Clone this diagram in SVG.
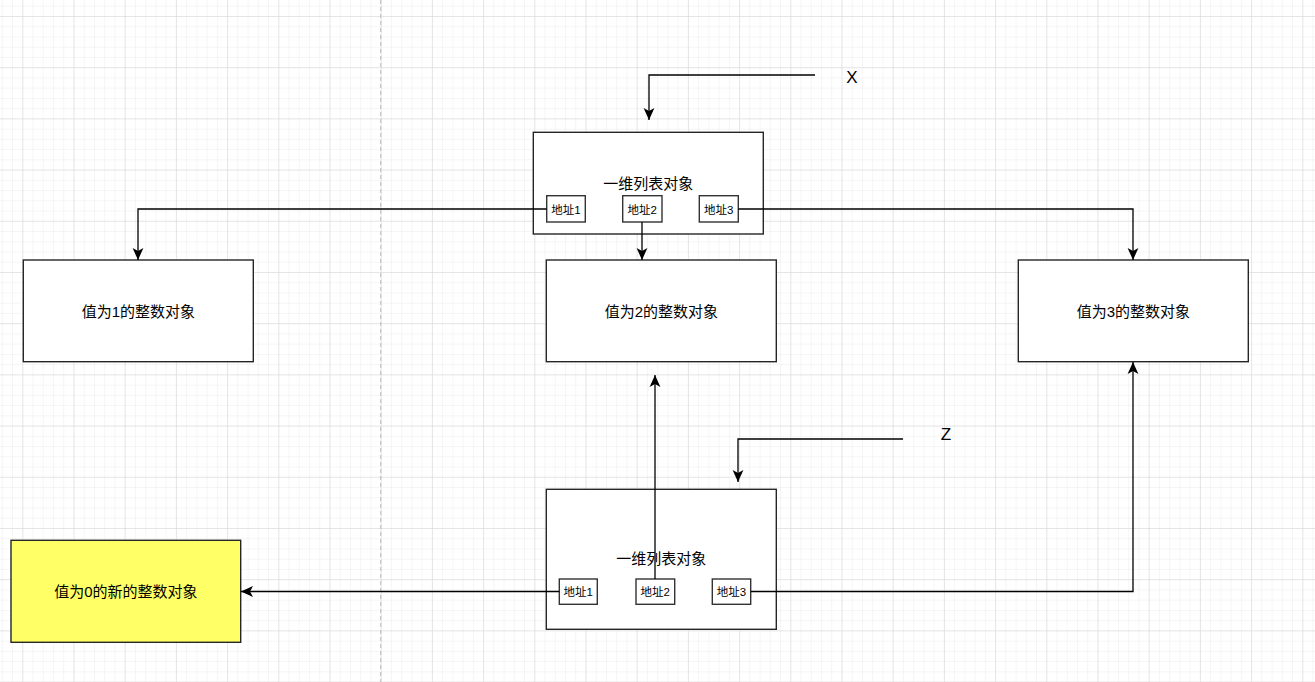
<svg xmlns="http://www.w3.org/2000/svg" width="1315" height="682" viewBox="0 0 1315 682">
<style>
.box{fill:#fff;stroke:#262626;stroke-width:1.4}
.yel{fill:#ffff66;stroke:#262626;stroke-width:1.4}
.sm{fill:#fff;stroke:#333;stroke-width:1.4}
.t{font-family:"Liberation Sans","Noto Sans CJK SC",sans-serif;font-size:15px;fill:#000;text-anchor:middle;dominant-baseline:central}
.ts{font-family:"Liberation Sans","Noto Sans CJK SC",sans-serif;font-size:11.5px;fill:#000;text-anchor:middle;dominant-baseline:central}
.tl{font-family:"Liberation Sans","Noto Sans",sans-serif;font-size:17px;fill:#000;text-anchor:middle;dominant-baseline:central}
.c{fill:none;stroke:#000;stroke-width:1.3}
</style>
<defs>
<pattern id="minor" patternUnits="userSpaceOnUse" x="1.82" y="5.76" width="10.24" height="10.24">
<path d="M0 0H10.24M0 0V10.24" fill="none" stroke="#ececec" stroke-width="1"/>
</pattern>
<pattern id="major" patternUnits="userSpaceOnUse" x="22.3" y="16" width="51.2" height="51.2">
<path d="M0 0H51.2M0 0V51.2" fill="none" stroke="#d6d6d6" stroke-width="1"/>
</pattern>
<marker id="ah" markerUnits="userSpaceOnUse" markerWidth="12" markerHeight="12" viewBox="0 0 10 9" refX="10" refY="4.5" orient="auto">
<path d="M0 0L10 4.5L0 9L2.5 4.5Z" fill="#000"/>
</marker>
</defs>
<rect width="1315" height="682" fill="#fff"/>
<rect width="1315" height="682" fill="url(#minor)"/>
<rect width="1315" height="682" fill="url(#major)"/>
<line x1="380.7" y1="0" x2="380.7" y2="682" stroke="#c4c4c4" stroke-width="1.2" stroke-dasharray="4 3"/>

<g id="labelX"><text class="tl" x="852" y="77">X</text></g>
<g id="labelZ"><text class="tl" x="946" y="434">Z</text></g>

<g id="list1">
<rect class="box" x="533.3" y="132.3" width="230" height="101.7"/>
<text class="t" x="648.3" y="183.5">一维列表对象</text>
</g>
<g id="list1_addr1"><rect class="sm" x="546.7" y="195.7" width="38.6" height="26.3"/><text class="ts" x="566" y="209.5">地址1</text></g>
<g id="list1_addr2"><rect class="sm" x="622.7" y="195.7" width="39.3" height="26.3"/><text class="ts" x="642.3" y="209.5">地址2</text></g>
<g id="list1_addr3"><rect class="sm" x="699.3" y="195.7" width="39" height="26.3"/><text class="ts" x="718.8" y="209.5">地址3</text></g>

<g id="val1"><rect class="box" x="23.3" y="260" width="230" height="101.7"/><text class="t" x="138.3" y="311">值为1的整数对象</text></g>
<g id="val2"><rect class="box" x="546.3" y="260" width="230" height="101.7"/><text class="t" x="661.3" y="311">值为2的整数对象</text></g>
<g id="val3"><rect class="box" x="1018.3" y="260" width="230" height="101.7"/><text class="t" x="1133.3" y="311">值为3的整数对象</text></g>

<g id="list2">
<rect class="box" x="546.3" y="489.3" width="230" height="140"/>
<text class="t" x="661.3" y="558.5">一维列表对象</text>
</g>
<g id="list2_addr1"><rect class="sm" x="559.3" y="579" width="38" height="25.3"/><text class="ts" x="578.3" y="592">地址1</text></g>
<g id="list2_addr2"><rect class="sm" x="636" y="579" width="38.7" height="25.3"/><text class="ts" x="655.3" y="592">地址2</text></g>
<g id="list2_addr3"><rect class="sm" x="712.3" y="579" width="38.4" height="25.3"/><text class="ts" x="731.5" y="592">地址3</text></g>

<g id="val0"><rect class="yel" x="11" y="540.3" width="229.7" height="102"/><text class="t" x="125.8" y="591">值为0的新的整数对象</text></g>

<g id="connectors">
<path class="c" d="M815 75H649V120" marker-end="url(#ah)"/>
<path class="c" d="M546.7 209H138V260" marker-end="url(#ah)"/>
<path class="c" d="M642 222V260" marker-end="url(#ah)"/>
<path class="c" d="M738.3 209H1133V260" marker-end="url(#ah)"/>
<path class="c" d="M903 439H738V482" marker-end="url(#ah)"/>
<path class="c" d="M559.3 591.5H241" marker-end="url(#ah)"/>
<path class="c" d="M655 579V375" marker-end="url(#ah)"/>
<path class="c" d="M750.7 591.5H1133V362" marker-end="url(#ah)"/>
</g>
</svg>
